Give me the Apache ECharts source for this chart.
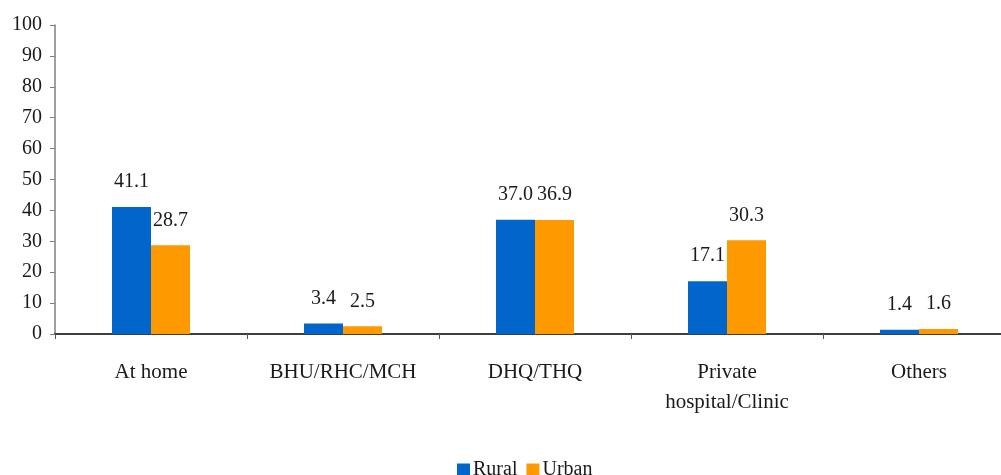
<!DOCTYPE html>
<html>
<head>
<meta charset="utf-8">
<style>
  html, body { margin: 0; padding: 0; background: #ffffff; }
  #chart { width: 1001px; height: 475px; }
</style>
<script src="https://cdn.jsdelivr.net/npm/echarts@6/dist/echarts.min.js"></script>
</head>
<body>
<div id="chart"></div>
<script>
// Place of delivery, rural vs urban (%)
const categories = ['At home', 'BHU/RHC/MCH', 'DHQ/THQ', 'Private\nhospital/Clinic', 'Others'];
const rural = [41.1, 3.4, 37.0, 17.1, 1.4];
const urban = [28.7, 2.5, 36.9, 30.3, 1.6];
const yTicks = { min: 0, max: 100, interval: 10 };

const FONT = '"Liberation Serif", "DejaVu Serif", serif';
const textColor = '#1a1a1a';

const chart = echarts.init(document.getElementById('chart'), null, { renderer: 'canvas' });

const valueLabel = {
  show: true,
  position: 'top',
  distance: 15,
  fontFamily: FONT,
  fontSize: 20,
  lineHeight: 20,
  color: textColor,
  formatter: p => p.value.toFixed(1)
};

chart.setOption({
  animation: false,
  backgroundColor: '#ffffff',
  textStyle: { fontFamily: FONT },
  // plot area runs past the right edge of the canvas
  grid: { left: 55, top: 25, width: 960, height: 309, containLabel: false, outerBoundsMode: 'none' },
  legend: {
    data: ['Rural', 'Urban'],
    top: 455,
    left: 452,
    itemWidth: 13,
    itemHeight: 13,
    itemGap: 9,
    icon: 'rect',
    textStyle: { fontFamily: FONT, fontSize: 20, color: textColor, padding: [0, 0, 0, -2] }
  },
  xAxis: {
    type: 'category',
    data: categories,
    boundaryGap: true,
    axisLine: { lineStyle: { color: '#000000', width: 1.5 } },
    axisTick: { show: true, length: 5, lineStyle: { color: '#555555' } },
    axisLabel: {
      interval: 0,
      margin: 23,
      fontFamily: FONT,
      fontSize: 21,
      lineHeight: 30,
      color: textColor
    },
    splitLine: { show: false }
  },
  yAxis: {
    type: 'value',
    min: yTicks.min,
    max: yTicks.max,
    interval: yTicks.interval,
    axisLine: { show: true, lineStyle: { color: '#808080', width: 1.5 } },
    axisTick: { show: true, length: 5, inside: false, lineStyle: { color: '#808080' } },
    axisLabel: { margin: 13, fontFamily: FONT, fontSize: 20, color: textColor },
    splitLine: { show: false }
  },
  series: [
    {
      name: 'Rural',
      type: 'bar',
      data: rural,
      barWidth: 39,
      barGap: '0%',
      itemStyle: { color: '#0066cc' },
      label: valueLabel
    },
    {
      name: 'Urban',
      type: 'bar',
      data: urban,
      barWidth: 39,
      barGap: '0%',
      itemStyle: { color: '#ff9900' },
      label: valueLabel
    }
  ]
});
</script>
</body>
</html>
